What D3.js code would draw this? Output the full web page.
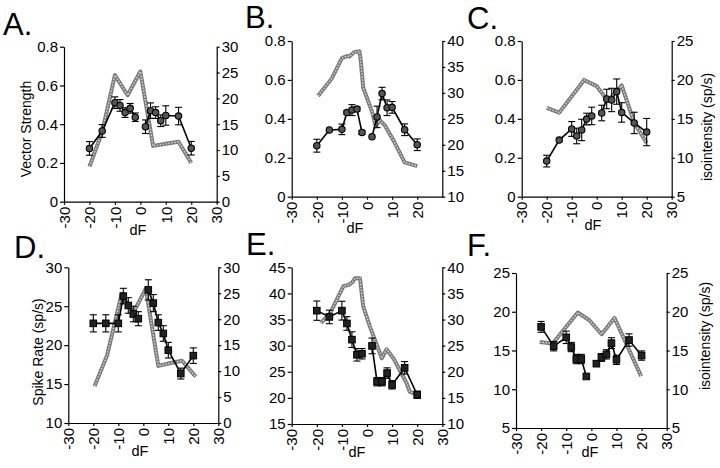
<!DOCTYPE html>
<html><head><meta charset="utf-8">
<script src="https://cdn.jsdelivr.net/npm/d3@7"></script>
<style>
body{margin:0;background:#fff}
svg{display:block}
text{font-family:"Liberation Sans",Arial,Helvetica,sans-serif;fill:#000}
</style>
</head><body>
<svg id="chart" width="720" height="468"></svg>
<script>
// ---------- data ----------
const dF = [-20,-15,-10,-8,-6,-4,-2,2,4,6,8,10,15,20];
const xTickFull = [-30,-20,-10,0,10,20,30];
const xTickB = [-30,-20,-10,0,10,20];
const vsTicks = [0,0.2,0.4,0.6,0.8];

// A
const vsA    = [0.275,0.365,0.511,0.497,0.46,0.482,0.436,0.387,0.47,0.46,0.418,0.445,0.442,0.276];
const vsAErr = [0.035,0.033,0.03,0.03,0.025,0.025,0.022,0.035,0.04,0.03,0.03,0.05,0.045,0.035];
const isoAx  = [-20,-15,-10,-5,0,5,10,15,20];
const isoAy  = [6.8,13.5,24.5,20.6,25.2,10.8,11.2,11.6,7.5];
const rightTicksA = [0,5,10,15,20,25,30];
// B
const vsB    = [0.262,0.343,0.346,0.433,0.445,0.45,0.33,0.308,0.41,0.53,0.457,0.459,0.344,0.267];
const vsBErr = [0.033,0,0.027,0.01,0.028,0.01,0.01,0,0.055,0.032,0.04,0.03,0.03,0.03];
const isoBx  = [-19.5,-14,-10,-8,-7,-5,-3,-2.5,-1.5,2,3.5,5,7,10.5,15,20];
const isoBy  = [29.4,32.8,36.7,37.1,37,37.9,38,36.3,31,26.4,23.5,24.8,23.8,20.9,16.6,15.9];
const rightTicksB = [10,15,20,25,30,35,40];
// C
const vsC    = [0.183,0.291,0.348,0.312,0.343,0.399,0.415,0.43,0.502,0.497,0.54,0.433,0.379,0.332];
const vsCErr = [0.03,0,0.038,0.04,0.055,0.03,0.045,0.04,0.05,0.06,0.065,0.05,0.055,0.07];
const isoCx  = [-20,-15,-5,0,4.5,10,15,20];
const isoCy  = [16.4,15.8,20,19.2,17.3,19.3,14.5,11.9];
const rightTicksC = [5,10,15,20,25];
// D
const srD    = [22.8,22.8,22.8,26.3,25.1,24,23.4,27.1,25.4,22.9,21.5,19.35,16.35,18.65];
const srDErr = [1.1,1.1,1.1,1.0,1.0,1.0,0.9,1.3,1.1,1.0,1.0,1.0,0.7,1.0];
const isoDx  = [-19.5,-14.5,-8.7,-4,1,6,10.5,15.5,21];
const isoDy  = [7.1,13,24.8,21.2,25.9,11,11.5,12,8.9];
const leftTicksD = [10,15,20,25,30];
const rightTicksD = [0,5,10,15,20,25,30];
// E
const srE    = [36.7,35.5,36.7,34.25,31.15,28.25,28.45,29.95,23.1,23.1,24.75,22.5,25.75,20.6];
const srEErr = [1.85,1.3,1.8,1.3,1.5,1.2,1.0,1.5,0.8,0.8,1.0,0.8,1.2,0.7];
const isoEx  = [-18.4,-14.7,-9.4,-7.4,-5.7,-4.8,-2.8,-1.5,1.2,5.9,7.8,10.5,15.8,17,20];
const isoEy  = [29.3,31.2,36.4,36.6,37.2,37.9,37.9,32.5,28.6,22.6,24.3,22.6,17.8,16.2,15.6];
const leftTicksE = [15,20,25,30,35,40,45];
const rightTicksE = [10,15,20,25,30,35,40];
// F
const srF    = [18.05,15.55,16.7,15.45,13.9,13.9,11.65,13.3,14.1,14.5,15.95,13.8,16.35,14.35];
const srFErr = [0.7,0.6,0.8,0.6,0.6,0.6,0,0,0.5,0.6,0.7,0.6,0.8,0.6];
const isoFx  = [-20.6,-15.4,-5.4,-0.8,4.1,9.2,19.8];
const isoFy  = [16.1,15.9,19.9,18.9,17.1,19.2,11.7];
const leftTicksF = [5,10,15,20,25];
const rightTicksF = [5,10,15,20,25];

// ---------- layout ----------
const panels = [
  {label:"A.", lx:3, ly:35, x0:64, x1:216.7, yt:46.7, yb:201.7, lDom:[0,0.8], lTicks:vsTicks, rDom:[0,30], rTicks:rightTicksA,
   xTicks:xTickFull, mean:vsA, err:vsAErr, gx:isoAx, gy:isoAy, marker:"circle", leftTitle:"Vector Strength", ltx:31, lty:129, dfx:138, dfy:235},
  {label:"B.", lx:245, ly:28, x0:291.7, x1:442.3, yt:41, yb:196.7, lDom:[0,0.8], lTicks:vsTicks, rDom:[10,40], rTicks:rightTicksB,
   xTicks:xTickB, mean:vsB, err:vsBErr, gx:isoBx, gy:isoBy, marker:"circle", dfx:355, dfy:233},
  {label:"C.", lx:467, ly:29, x0:521.7, x1:671.7, yt:41, yb:196.7, lDom:[0,0.8], lTicks:vsTicks, rDom:[5,25], rTicks:rightTicksC,
   xTicks:xTickFull, mean:vsC, err:vsCErr, gx:isoCx, gy:isoCy, marker:"circle", rightTitle:"isointensity (sp/s)", rtx:712, rty:127, dfx:593, dfy:230},
  {label:"D.", lx:14, ly:258, x0:68.3, x1:218.3, yt:267.3, yb:423, lDom:[10,30], lTicks:leftTicksD, rDom:[0,30], rTicks:rightTicksD,
   xTicks:xTickFull, mean:srD, err:srDErr, gx:isoDx, gy:isoDy, marker:"square", leftTitle:"Spike Rate (sp/s)", ltx:43, lty:352, dfx:140, dfy:456},
  {label:"E.", lx:246, ly:255, x0:291.7, x1:442.3, yt:267.3, yb:424, lDom:[15,45], lTicks:leftTicksE, rDom:[10,40], rTicks:rightTicksE,
   xTicks:xTickFull, mean:srE, err:srEErr, gx:isoEx, gy:isoEy, marker:"square", dfx:357, dfy:457},
  {label:"F.", lx:467, ly:256, x0:516, x1:666.7, yt:273, yb:428, lDom:[5,25], lTicks:leftTicksF, rDom:[5,25], rTicks:rightTicksF,
   xTicks:xTickFull, mean:srF, err:srFErr, gx:isoFx, gy:isoFy, marker:"square", rightTitle:"isointensity (sp/s)", rtx:710, rty:336, dfx:590, dfy:457}
];

const svg = d3.select("#chart");
const fmtL = d => d === 0 ? "0" : (Number.isInteger(d) ? String(d) : d3.format(".1f")(d));

panels.forEach(p => {
  const g = svg.append("g");
  const x = d3.scaleLinear().domain([-30,30]).range([p.x0,p.x1]);
  const yL = d3.scaleLinear().domain(p.lDom).range([p.yb,p.yt]);
  const yR = d3.scaleLinear().domain(p.rDom).range([p.yb,p.yt]);

  // panel letter
  g.append("text").attr("x",p.lx).attr("y",p.ly).attr("font-size",31).text(p.label);

  // axes
  const axL = g.append("g").attr("transform",`translate(${p.x0},0)`)
    .call(d3.axisLeft(yL).tickValues(p.lTicks).tickSize(4).tickPadding(2).tickSizeOuter(0).tickFormat(fmtL));
  const axR = g.append("g").attr("transform",`translate(${p.x1},0)`)
    .call(d3.axisRight(yR).tickValues(p.rTicks).tickSize(3).tickPadding(2).tickSizeOuter(0).tickFormat(d=>String(d)));
  const axB = g.append("g").attr("transform",`translate(0,${p.yb})`)
    .call(d3.axisBottom(x).tickValues(p.xTicks).tickSize(3).tickSizeOuter(0).tickFormat(d=>String(d)));
  axB.selectAll("text").attr("transform","rotate(-90)").attr("x",-5).attr("y",0)
    .attr("dy","0.35em").attr("text-anchor","end");
  [axL,axR,axB].forEach(a=>{
    a.selectAll("text").attr("font-size",15).style("fill","#000");
    a.selectAll("path,line").attr("stroke","#000").attr("stroke-width",1.2);
    a.attr("font-family",null);
  });

  // titles
  if (p.leftTitle) g.append("text").attr("transform",`translate(${p.ltx},${p.lty}) rotate(-90)`)
      .attr("text-anchor","middle").attr("font-size",14).text(p.leftTitle);
  if (p.rightTitle) g.append("text").attr("transform",`translate(${p.rtx},${p.rty}) rotate(-90)`)
      .attr("text-anchor","middle").attr("font-size",14).text(p.rightTitle);
  g.append("text").attr("x",p.dfx).attr("y",p.dfy).attr("text-anchor","middle").attr("font-size",14.5).text("dF");

  // gray isointensity curve (hatched look)
  const iso = p.gx.map((v,i)=>[v,p.gy[i]]);
  const gl = d3.line().x(d=>x(d[0])).y(d=>yR(d[1]));
  g.append("path").datum(iso).attr("d",gl).attr("fill","none").attr("stroke","#7a7a7a").attr("stroke-width",4).attr("stroke-linejoin","round");
  g.append("path").datum(iso).attr("d",gl).attr("fill","none").attr("stroke","#d8d8d8").attr("stroke-width",1.4)
    .attr("stroke-dasharray","1.5,1.5");

  // black series: negative and positive dF as separate segments
  const pts = dF.map((v,i)=>({x:v,y:p.mean[i],e:p.err[i]}));
  const bl = d3.line().x(d=>x(d.x)).y(d=>yL(d.y));
  [pts.filter(d=>d.x<0), pts.filter(d=>d.x>0)].forEach(seg=>{
    g.append("path").datum(seg).attr("d",bl).attr("fill","none").attr("stroke","#000").attr("stroke-width",1.6);
  });

  // error bars
  const eb = g.append("g").attr("stroke","#000").attr("stroke-width",1.1);
  pts.filter(d=>d.e>0).forEach(d=>{
    const cx = x(d.x), t = yL(d.y+d.e), b = yL(d.y-d.e);
    eb.append("line").attr("x1",cx).attr("x2",cx).attr("y1",t).attr("y2",b);
    eb.append("line").attr("x1",cx-3.5).attr("x2",cx+3.5).attr("y1",t).attr("y2",t);
    eb.append("line").attr("x1",cx-3.5).attr("x2",cx+3.5).attr("y1",b).attr("y2",b);
  });

  // markers
  if (p.marker === "circle") {
    g.append("g").selectAll("circle").data(pts).join("circle")
      .attr("cx",d=>x(d.x)).attr("cy",d=>yL(d.y)).attr("r",3.2)
      .attr("fill","#555").attr("stroke","#000").attr("stroke-width",1.1);
  } else {
    g.append("g").selectAll("rect").data(pts).join("rect")
      .attr("x",d=>x(d.x)-3.3).attr("y",d=>yL(d.y)-3.3).attr("width",6.6).attr("height",6.6)
      .attr("fill","#222").attr("stroke","#000").attr("stroke-width",1);
  }
});
</script>
</body></html>
